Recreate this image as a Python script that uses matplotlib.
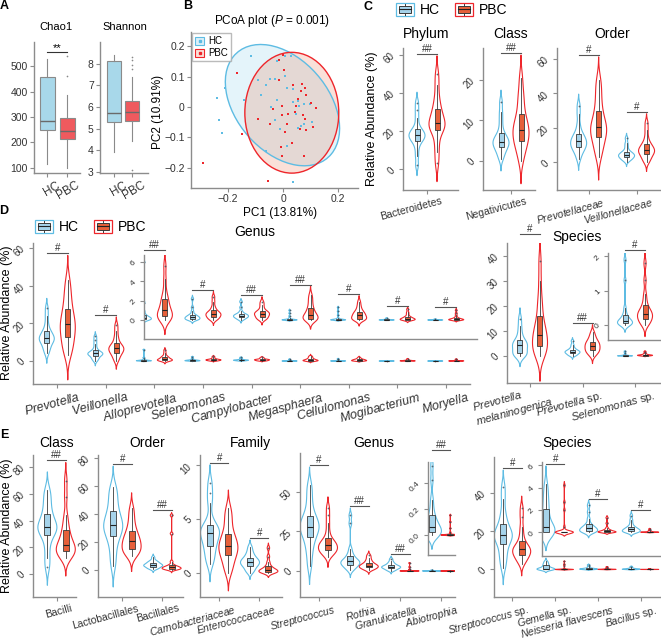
import numpy as np
import matplotlib
matplotlib.use("Agg")
import matplotlib.pyplot as plt
from matplotlib.patches import Ellipse, Rectangle, Patch
from matplotlib.lines import Line2D
from matplotlib.legend_handler import HandlerBase
from matplotlib.transforms import ScaledTranslation

plt.rcParams['font.family'] = ['Liberation Sans', 'DejaVu Sans']
plt.rcParams['mathtext.fontset'] = 'custom'
plt.rcParams['mathtext.rm'] = 'Liberation Sans'
plt.rcParams['mathtext.it'] = 'Liberation Sans:italic'

HC_LINE = '#5EBCE3'
HC_FILL = '#A6D3EA'
PBC_LINE = '#EE262B'
PBC_FILL = '#E6603A'
AXC = '#8c8c8c'
TXT = '#333333'

# ---------------- data ----------------
# A: alpha diversity (whislo, q1, med, q3, whishi) and outliers
groups = ['HC', 'PBC']
chao1_box = [[115, 248, 283, 458, 530], [100, 213, 247, 298, 385]]
chao1_out = [[], [460, 540]]
shannon_box = [[3.9, 5.32, 5.7, 8.1, 8.4], [4.45, 5.35, 5.75, 6.27, 7.4]]
shannon_out = [[], [3.1, 7.75, 7.95, 8.15, 8.3]]

# B: PCoA
pcoa_hc_x = [-0.117, -0.212, -0.24, -0.232, -0.221, -0.141, -0.091, -0.079, -0.062, -0.048,
             -0.031, -0.021, 0.006, 0.028, 0.007, -0.022, -0.042, -0.029, -0.010, 0.016,
             0.038, 0.036, 0.055, 0.059, 0.076, 0.099, 0.064, 0.076, 0.107, 0.016,
             -0.062, 0.036, 0.053, 0.047]
pcoa_hc_y = [0.168, 0.063, 0.031, -0.043, -0.087, 0.023, 0.088, 0.040, 0.071, 0.093,
             0.093, 0.150, 0.167, 0.167, 0.103, 0.024, 0.000, -0.042, -0.073, 0.063,
             0.060, 0.017, 0.021, 0.003, 0.010, 0.010, -0.062, -0.057, -0.049, -0.129,
             -0.146, -0.246, -0.070, -0.023]
pcoa_pbc_x = [-0.291, -0.169, -0.151, -0.016, -0.001, 0.004, 0.070, 0.079, 0.066, 0.056,
              0.102, 0.120, -0.091, -0.047, -0.037, -0.002, -0.004, 0.018, 0.016, 0.007,
              0.045, 0.072, 0.079, 0.061, 0.082, 0.110, -0.007, 0.033, -0.004, 0.078,
              -0.054, 0.036, -0.016, 0.047, 0.083]
pcoa_pbc_y = [-0.184, 0.113, -0.089, 0.154, 0.171, 0.121, 0.077, 0.062, 0.054, 0.027,
              0.013, -0.003, -0.040, -0.057, -0.007, 0.004, -0.027, -0.023, -0.057, -0.084,
              -0.018, -0.027, -0.040, -0.073, -0.075, -0.067, -0.132, -0.120, -0.160, -0.162,
              -0.245, 0.073, 0.088, 0.004, 0.038]
ell_hc = [-0.002, 0.006, 0.48, 0.32, -42]   # centre x, centre y, width, height, angle
ell_pbc = [0.032, -0.019, 0.342, 0.398, 0]

# C
phylum_labels = ['Bacteroidetes']
phylum_hc = [[2, 7, 11, 14, 15, 16, 17, 17.5, 18, 19, 20, 20.5, 23, 27, 31, 35]]
phylum_pbc = [[3, 9, 14, 19, 21, 22, 23, 24, 25, 27, 29, 31, 34, 38, 44, 50]]
phylum_sig = ['##']
class_labels = ['Negativicutes']
class_hc = [[0.5, 1.5, 2.5, 3, 3.5, 4, 4.5, 4.5, 5, 5.5, 6, 6.5, 8, 10, 12, 14.5]]
class_pbc = [[0, 2, 3.5, 4.5, 5, 6, 7, 7.5, 8, 9, 10, 11, 13, 15, 17, 20.5]]
class_sig = ['##']
order_labels = [r'$\it{Prevotellaceae}$', r'$\it{Veillonellaceae}$']
order_hc = [[2, 5, 7, 8, 9, 10, 11, 12, 12.5, 13.5, 15, 16, 18, 22, 28, 33],
            [0.5, 1.5, 2, 2.5, 3, 3.5, 4, 4, 4.5, 5, 5.5, 6, 7, 9, 11, 14]]
order_pbc = [[3, 7, 10, 13, 15, 17, 19, 20, 21, 23, 26, 29, 33, 38, 43, 48],
             [0, 1.5, 3, 4, 5, 6, 6.5, 7, 7.5, 8.5, 9.5, 10.5, 12, 15, 19, 23]]
order_sig = ['#', '#']

# D genus
genus_labels = [r'$\it{Prevotella}$', r'$\it{Veillonella}$', r'$\it{Alloprevotella}$',
                r'$\it{Selenomonas}$', r'$\it{Campylobacter}$', r'$\it{Megasphaera}$',
                r'$\it{Cellulomonas}$', r'$\it{Mogibacterium}$', r'$\it{Moryella}$']
genus_hc = [[4, 6, 7.5, 9, 10, 11, 11.5, 12, 12.5, 13.5, 14.5, 15.5, 17, 20, 24, 28],
            [0, 1, 1.5, 2.5, 3, 3.5, 3.5, 4, 4, 4.5, 5, 5.5, 7, 9, 11, 13],
            [0, 0, 0.05, 0.1, 0.1, 0.15, 0.2, 0.25, 0.3, 0.35, 0.45, 0.6, 0.9, 1.8, 6.0],
            [0, 0, 0.05, 0.1, 0.15, 0.2, 0.25, 0.3, 0.35, 0.4, 0.5, 0.6, 0.9, 1.3, 2.2],
            [0, 0.1, 0.2, 0.25, 0.3, 0.35, 0.4, 0.45, 0.5, 0.55, 0.6, 0.7, 0.9, 1.3, 1.9],
            [0, 0, 0, 0, 0, 0, 0.01, 0.02, 0.03, 0.05, 0.1, 0.2, 0.4, 0.7, 1.0],
            [0, 0, 0, 0, 0, 0.01, 0.02, 0.03, 0.05, 0.08, 0.1, 0.2, 0.5, 0.9, 1.3],
            [0, 0, 0, 0, 0, 0, 0.01, 0.02, 0.03, 0.04, 0.05, 0.07, 0.1, 0.15, 0.2],
            [0, 0, 0, 0, 0, 0, 0, 0.01, 0.01, 0.02, 0.03, 0.04, 0.05, 0.08, 0.1]]
genus_pbc = [[3, 6, 8, 11, 13, 15, 17, 19, 20, 22, 24, 27, 30, 34, 38, 43],
             [0, 1.5, 3, 4, 4.5, 5.5, 6, 6.5, 7, 7.5, 8.5, 9, 11, 13, 16, 19],
             [0, 0.1, 0.2, 0.3, 0.5, 0.6, 0.8, 1.0, 1.3, 1.7, 2.0, 2.3, 3.0, 4.2, 5.6],
             [0, 0.1, 0.2, 0.3, 0.4, 0.5, 0.6, 0.6, 0.7, 0.8, 0.9, 1.1, 1.4, 1.9, 2.4],
             [0, 0.1, 0.2, 0.3, 0.4, 0.5, 0.6, 0.65, 0.7, 0.8, 0.9, 1.0, 1.3, 1.6, 1.9],
             [0, 0.02, 0.05, 0.1, 0.2, 0.3, 0.4, 0.5, 0.7, 0.9, 1.1, 1.4, 1.8, 2.2, 2.6],
             [0, 0.02, 0.05, 0.1, 0.2, 0.3, 0.4, 0.5, 0.6, 0.7, 0.8, 0.95, 1.2, 1.5, 1.9],
             [0, 0, 0, 0.02, 0.05, 0.08, 0.1, 0.15, 0.2, 0.25, 0.3, 0.4, 0.6, 0.8, 1.1],
             [0, 0, 0, 0.01, 0.02, 0.03, 0.05, 0.08, 0.1, 0.15, 0.2, 0.3, 0.5, 0.7, 1.0]]
genus_sig = ['#', '#', '##', '#', '##', '##', '#', '#', '#']

# D species
spec_d_labels = [r'$\it{Prevotella}$' + '\n' + r'$\it{melaninogenica}$',
                 r'$\it{Prevotella}$ sp.', r'$\it{Selenomonas}$ sp.']
spec_d_hc = [[0, 0.2, 0.5, 1, 1.5, 2.5, 3.5, 4, 4.5, 5, 5.5, 6, 7.5, 9.5, 12, 15],
             [0, 0.3, 0.6, 0.9, 1.2, 1.4, 1.5, 1.7, 1.9, 2.1, 2.4, 2.8, 3.5, 4.5, 6],
             [0, 0, 0.02, 0.04, 0.06, 0.08, 0.1, 0.12, 0.15, 0.2, 0.25, 0.35, 0.5, 1.3, 1.9]]
spec_d_pbc = [[0, 1, 2, 2.5, 4, 5, 6.5, 7.5, 8.5, 10, 11.5, 13, 16, 20, 23, 30, 38],
              [0, 1, 1.5, 2, 2.5, 3, 3.5, 4, 4.5, 5, 5.5, 6, 7, 8, 9.5],
              [0, 0.05, 0.1, 0.15, 0.2, 0.25, 0.3, 0.3, 0.35, 0.4, 0.45, 0.55, 0.7, 0.9, 1.3, 1.8]]
spec_d_sig = ['#', '##', '#']

# E
class_e_labels = ['Bacilli']
class_e_hc = [[5, 12, 20, 27, 30, 32, 34, 35, 36, 38, 41, 44, 48, 53, 58, 63]]
class_e_pbc = [[12, 14, 15, 16, 17, 18, 20, 21, 22, 24, 27, 30, 33, 38, 44, 58, 70]]
class_e_sig = ['##']
order_e_labels = ['Lactobacillales', 'Bacillales']
order_e_hc = [[3, 10, 17, 22, 25, 28, 30, 31, 33, 35, 38, 41, 45, 50, 55, 59],
              [0.5, 1, 1.5, 2, 2.5, 3, 3, 3.5, 3.5, 4, 4.5, 5, 5.5, 6, 7, 9]]
order_e_pbc = [[10, 12, 13, 14, 15, 17, 19, 20, 21, 23, 25, 27, 30, 34, 39, 44],
               [0, 0.3, 0.5, 0.8, 1, 1.2, 1.5, 1.7, 2, 2.3, 2.7, 3, 4, 6, 26, 39]]
order_e_sig = ['#', '##']
family_e_labels = [r'$\it{Carnobacteriaceae}$', r'$\it{Enterococcaceae}$']
family_e_hc = [[0.8, 1.3, 1.8, 2.3, 2.6, 3, 3.3, 3.6, 3.8, 4, 4.1, 4.3, 5, 6.5, 7.4, 8.4],
               [0, 0.2, 0.4, 0.6, 0.7, 0.8, 0.9, 1, 1.1, 1.2, 1.3, 1.5, 1.7, 2, 2.4]]
family_e_pbc = [[0, 0.5, 1, 1.4, 1.7, 2, 2.2, 2.4, 2.6, 2.9, 3.2, 3.5, 4, 4.7, 5.3, 6],
                [0, 0, 0, 0.05, 0.1, 0.15, 0.2, 0.25, 0.3, 0.4, 0.5, 0.7, 1, 1.5, 2.3]]
family_e_sig = ['#', '#']
genus_e_labels = [r'$\it{Streptococcus}$', r'$\it{Rothia}$', r'$\it{Granulicatella}$',
                  r'$\it{Abiotrophia}$']
genus_e_hc = [[3, 10, 15, 19, 22, 24, 26, 27.5, 28.5, 30, 32, 34, 37, 42, 48, 54],
              [0.5, 1.5, 2.5, 3.5, 4, 4.5, 5, 5.5, 6, 6.5, 7, 8, 9.5, 11, 14, 30, 35],
              [0, 0.5, 1, 1.5, 1.8, 2, 2.3, 2.5, 2.8, 3, 3.3, 3.8, 4.3, 5, 6, 7.5],
              [0, 0, 0, 0.01, 0.02, 0.03, 0.04, 0.05, 0.06, 0.08, 0.1, 0.12, 0.15, 0.2, 0.27, 0.42, 0.53]]
genus_e_pbc = [[9, 11, 12, 12.5, 13, 14, 15, 16, 16.5, 17, 18, 19.5, 21, 25, 30, 35, 40],
               [0.5, 1, 1.5, 2, 2.3, 2.6, 3, 3.2, 3.5, 4, 4.5, 5, 6, 7, 8.5, 10],
               [0, 0, 0, 0, 0, 0, 0.02, 0.05, 0.08, 0.1, 0.15, 0.2, 0.4, 1, 2.5, 5],
               [0, 0, 0, 0, 0, 0, 0, 0, 0, 0, 0, 0, 0.01, 0.02, 0.05, 0.1, 0.15]]
genus_e_sig = ['#', '##', '##', '##']
spec_e_labels = [r'$\it{Streptococcus}$ sp.', r'$\it{Gemella}$ sp.',
                 r'$\it{Neisseria\ flavescens}$', r'$\it{Bacillus}$ sp.']
spec_e_hc = [[1, 5, 8, 11, 14, 15.5, 16.5, 17.5, 18.5, 19.5, 21, 23, 26, 30, 37, 43],
             [0, 0, 0, 0, 0.05, 0.1, 0.2, 0.3, 0.6, 1.0, 1.5, 2.0, 2.4, 3.0, 3.6, 4.3],
             [0, 0, 0.05, 0.1, 0.15, 0.2, 0.3, 0.35, 0.4, 0.5, 0.6, 0.8, 1.2, 1.8, 2.4],
             [0, 0, 0.02, 0.05, 0.1, 0.15, 0.2, 0.25, 0.3, 0.35, 0.45, 0.55, 0.8, 1.1, 1.5]]
spec_e_pbc = [[3, 4.5, 6, 7, 7.5, 8.5, 9.5, 10, 10.5, 11, 12, 13, 15, 18, 22, 27.5, 32],
              [0, 0, 0, 0, 0, 0, 0, 0, 0, 0, 0, 0, 0, 0.5, 2, 2.7, 4.2],
              [0, 0, 0, 0, 0, 0.02, 0.05, 0.08, 0.1, 0.15, 0.2, 0.25, 0.4, 0.8, 1.3],
              [0, 0, 0, 0, 0, 0, 0, 0.01, 0.02, 0.03, 0.05, 0.08, 0.1, 0.2, 0.3]]
spec_e_sig = ['#', '#', '#', '#']

# ---------------- helpers ----------------
W, H = 661, 644
fig = plt.figure(figsize=(W / 100, H / 100), dpi=100)


def add_ax(l, t, r, b):
    return fig.add_axes([l / W, 1 - b / H, (r - l) / W, (b - t) / H])


def ftext(x, y, s, **kw):
    kw.setdefault('ha', 'center')
    kw.setdefault('va', 'center')
    kw.setdefault('color', 'black')
    fig.text(x / W, 1 - y / H, s, **kw)


def style(ax, rot=45, fs=7):
    for s in ['top', 'right']:
        ax.spines[s].set_visible(False)
    for s in ['left', 'bottom']:
        ax.spines[s].set_color(AXC)
        ax.spines[s].set_linewidth(1)
    ax.tick_params(colors=AXC, labelcolor=TXT, labelsize=fs, length=3, width=0.8, pad=1.5)
    ax.tick_params(axis='y', labelrotation=rot)


def kde(vals):
    v = np.asarray(vals, float)
    sd = v.std(ddof=1)
    q1, q3 = np.percentile(v, [25, 75])
    lo = min(sd, (q3 - q1) / 1.34)
    if lo <= 0:
        lo = 0.25 * sd if sd > 0 else 0.05
    bw = 0.85 * 0.9 * lo * len(v) ** -0.2
    y = np.linspace(v.min() - 2.6 * bw, v.max() + 2.6 * bw, 300)
    d = np.exp(-0.5 * ((y[:, None] - v[None, :]) / bw) ** 2).sum(1)
    return dict(coords=y, vals=d, mean=v.mean(), median=np.median(v),
                min=v.min(), max=v.max(), quantiles=[])


def pair(ax, x, hc, pbc, dx, vw, bw, sig, pad):
    tops = []
    for data, off, line, fill in [(hc, -dx, HC_LINE, HC_FILL), (pbc, dx, PBC_LINE, PBC_FILL)]:
        st = kde(data)
        tops.append(st['coords'].max())
        parts = ax.violin([st], positions=[x + off], widths=vw, showextrema=False)
        for b in parts['bodies']:
            b.set_alpha(1)
            b.set_facecolor('none')
            b.set_edgecolor(line)
            b.set_linewidth(0.8)
        ax.boxplot([data], positions=[x + off], widths=bw, patch_artist=True,
                   manage_ticks=False, showcaps=False,
                   boxprops=dict(facecolor=fill, edgecolor='#3a3a3a', linewidth=0.6),
                   medianprops=dict(color='#222222', linewidth=0.8),
                   whiskerprops=dict(color='#3a3a3a', linewidth=0.6),
                   flierprops=dict(marker='o', markersize=1.3, markerfacecolor='#3a4a55',
                                   markeredgecolor='none', alpha=0.8))
    if sig:
        y = max(tops) + pad
        ax.plot([x - dx, x + dx], [y, y], color='#555555', lw=0.8, clip_on=False)
        ax.text(x, y, sig, ha='center', va='bottom', fontsize=7, color=TXT)


def vaxes(box, xlim, ylim, yticks, hc, pbc, sigs, show=None, dodge_px=10, vw_px=16, bw_px=5):
    ax = add_ax(*box)
    ax.set_xlim(xlim)
    ax.set_ylim(ylim)
    u = (xlim[1] - xlim[0]) / (box[2] - box[0])
    pad = 0.015 * (ylim[1] - ylim[0])
    for i, (h, p) in enumerate(zip(hc, pbc)):
        if show is not None and i not in show:
            continue
        pair(ax, i + 1, h, p, dodge_px * u, vw_px * u, bw_px * u, sigs[i], pad)
    ax.set_yticks(yticks)
    style(ax)
    return ax


def inset_xlim(mbox, mxlim, ibox):
    k = (mxlim[1] - mxlim[0]) / (mbox[2] - mbox[0])
    return (mxlim[0] + (ibox[0] - mbox[0]) * k, mxlim[0] + (ibox[2] - mbox[0]) * k)


def xlabels(ax, labels, fs, dx_px, rot=15, ha='right', ma='right'):
    ax.set_xticks(np.arange(1, len(labels) + 1))
    ax.set_xticklabels(labels, rotation=rot, ha=ha, rotation_mode='anchor', fontsize=fs,
                       multialignment=ma)
    off = ScaledTranslation(dx_px / 100, 0, fig.dpi_scale_trans)
    for lab in ax.get_xticklabels():
        lab.set_transform(lab.get_transform() + off)


class BoxKey(HandlerBase):
    def __init__(self, line, fill):
        super().__init__()
        self.line, self.fill = line, fill

    def create_artists(self, legend, orig, xd, yd, w, h, fs, trans):
        x0, y0 = -xd, -yd
        outer = Rectangle((x0, y0), w, h, fc='none', ec=self.line, lw=0.9, transform=trans)
        inner = Rectangle((x0 + 0.15 * w, y0 + 0.25 * h), 0.7 * w, 0.5 * h, fc=self.fill,
                          ec='#3a3a3a', lw=0.7, transform=trans)
        med = Line2D([x0 + 0.15 * w, x0 + 0.85 * w], [y0 + 0.5 * h] * 2, color='#222222',
                     lw=0.8, transform=trans)
        wt = Line2D([x0 + 0.5 * w] * 2, [y0 + 0.75 * h, y0 + 0.9 * h], color='#3a3a3a',
                    lw=0.7, transform=trans)
        wb = Line2D([x0 + 0.5 * w] * 2, [y0 + 0.1 * h, y0 + 0.25 * h], color='#3a3a3a',
                    lw=0.7, transform=trans)
        return [outer, inner, med, wt, wb]


def box_legend(x, y):
    h1, h2 = Patch(), Patch()
    fig.legend([h1, h2], groups, handler_map={h1: BoxKey(HC_LINE, HC_FILL),
                                              h2: BoxKey(PBC_LINE, PBC_FILL)},
               loc='center left', bbox_to_anchor=(x / W, 1 - y / H), ncol=2, frameon=False,
               fontsize=10, handlelength=1.3, handleheight=1.1, columnspacing=1.1,
               handletextpad=0.4, borderpad=0, borderaxespad=0)


# ---------------- A ----------------
for box, xlim, stats_, outs, yt, title, tx in [
        ((34, 42, 80, 173), (0.35, 2.65), chao1_box, chao1_out, [100, 200, 300, 400, 500], 'Chao1', 56),
        ((100, 42, 148, 173), (0.25, 2.87), shannon_box, shannon_out, [3, 4, 5, 6, 7, 8], 'Shannon', 125)]:
    ax = add_ax(*box)
    st = [dict(whislo=b[0], q1=b[1], med=b[2], q3=b[3], whishi=b[4], fliers=o)
          for b, o in zip(stats_, outs)]
    bp = ax.bxp(st, positions=[1, 2], widths=0.75, patch_artist=True, showcaps=False,
                boxprops=dict(edgecolor='#8a8a8a', linewidth=0.8),
                medianprops=dict(color='#6a6a6a', linewidth=1.0),
                whiskerprops=dict(color='#8a8a8a', linewidth=0.8),
                flierprops=dict(marker='o', markersize=1.2, markerfacecolor='#888888',
                                markeredgecolor='none'))
    for patch, c in zip(bp['boxes'], ['#A8D8EA', '#EF5A5E']):
        patch.set_facecolor(c)
    ax.set_xlim(xlim)
    ax.set_yticks(yt)
    style(ax, rot=0, fs=7.5)
    ax.set_xticks([1, 2])
    ax.set_xticklabels(groups, rotation=30, ha='right', rotation_mode='anchor', fontsize=8.5)
    off = ScaledTranslation(9 / 100, 0, fig.dpi_scale_trans)
    for lab in ax.get_xticklabels():
        lab.set_transform(lab.get_transform() + off)
    ftext(tx, 27, title, fontsize=8)
    if title == 'Chao1':
        ax.set_ylim(80, 595)
        ax.plot([1, 2], [556, 556], color='#333333', lw=0.8)
        ax.text(1.5, 552, '**', ha='center', va='bottom', fontsize=8)
    else:
        ax.set_ylim(2.95, 9.0)

# ---------------- B ----------------
ax = add_ax(191, 32, 358, 188)
for e, c, a in [(ell_hc, '#87CEEB', 0.22), (ell_pbc, '#E8683C', 0.2)]:
    ax.add_patch(Ellipse((e[0], e[1]), e[2], e[3], angle=e[4], facecolor=c, alpha=a,
                         edgecolor='none'))
for e, c in [(ell_hc, HC_LINE), (ell_pbc, PBC_LINE)]:
    ax.add_patch(Ellipse((e[0], e[1]), e[2], e[3], angle=e[4], facecolor='none',
                         edgecolor=c, lw=1.0))
ax.scatter(pcoa_hc_x, pcoa_hc_y, s=4, marker='s', color=HC_LINE, lw=0)
ax.scatter(pcoa_pbc_x, pcoa_pbc_y, s=4, marker='s', color=PBC_LINE, lw=0)
ax.set_xlim(-0.335, 0.273)
ax.set_ylim(-0.267, 0.247)
ax.set_xticks([-0.2, 0, 0.2])
ax.set_xticklabels(['\u22120.2', '0', '0.2'])
ax.set_yticks([-0.2, -0.1, 0, 0.1, 0.2])
ax.set_yticklabels(['\u22120.2', '\u22120.1', '0', '0.1', '0.2'])
style(ax, rot=0, fs=7.5)
leg_h = [(Patch(facecolor='#DCEFF8', edgecolor=HC_LINE, lw=0.8),
          Line2D([], [], marker='s', ms=2, color=HC_LINE, lw=0)),
         (Patch(facecolor='#F9E0D8', edgecolor=PBC_LINE, lw=0.8),
          Line2D([], [], marker='s', ms=2, color=PBC_LINE, lw=0))]
ax.legend(leg_h, groups, loc='upper left', fontsize=7, frameon=True, fancybox=False,
          edgecolor='#aaaaaa', handlelength=0.9, handleheight=0.9, borderpad=0.3,
          labelspacing=0.2, handletextpad=0.4, borderaxespad=0.15)
ftext(272, 21, r'PCoA plot ($\it{P}$ = 0.001)', fontsize=8.5)
ftext(280, 213, 'PC1 (13.81%)', fontsize=8.5)
ftext(158, 112, 'PC2 (10.91%)', fontsize=8.5, rotation=90)

# ---------------- C ----------------
box_legend(396, 10)
ax = vaxes((403, 48, 458, 190), (0.52, 1.62), (-11, 63.7), [0, 20, 40, 60],
           phylum_hc, phylum_pbc, phylum_sig)
xlabels(ax, phylum_labels, 7.5, 14)
ax = vaxes((483, 48, 535, 190), (0.44, 1.48), (-7.2, 27.9), [0, 10, 20],
           class_hc, class_pbc, class_sig)
xlabels(ax, class_labels, 7.5, 14)
ax = vaxes((557, 48, 661, 190), (0.34, 2.51), (-16, 66.4), [0, 20, 40, 60],
           order_hc, order_pbc, order_sig)
xlabels(ax, order_labels, 7.5, 14)
ftext(426, 34, 'Phylum', fontsize=10)
ftext(511, 34, 'Class', fontsize=10)
ftext(612, 34, 'Order', fontsize=10)
ftext(372, 119, 'Relative Abundance (%)', fontsize=9, rotation=90)

# ---------------- D ----------------
box_legend(35, 227)
mbox, mxl = (33, 243, 470, 384), (0.5, 9.5)
ax = vaxes(mbox, mxl, (-12.2, 62.6), [0, 20, 40, 60], genus_hc, genus_pbc,
           genus_sig[:2] + [None] * 7, dodge_px=10.5, vw_px=15)
xlabels(ax, genus_labels, 9, 21)
ibox = (144, 255, 477, 339)
ax = vaxes(ibox, inset_xlim(mbox, mxl, ibox), (-1.97, 6.74), [0, 2, 4, 6], genus_hc,
           genus_pbc, genus_sig, show=range(2, 9), dodge_px=10.5, vw_px=15)
ax.set_xticks([])
ax.tick_params(axis='y', labelsize=6)

mbox, mxl = (507, 243, 661, 383), (0.562, 3.495)
ax = vaxes(mbox, mxl, (-10.8, 45.2), [0, 10, 20, 30, 40], spec_d_hc, spec_d_pbc,
           spec_d_sig[:2] + [None], dodge_px=10, vw_px=15)
xlabels(ax, spec_d_labels, 8, 18, ma='left')
first = ax.get_xticklabels()[0]
first.set_transform(first.get_transform() + ScaledTranslation(0, 0.08, fig.dpi_scale_trans))
ibox = (608, 253, 661, 340)
ax = vaxes(ibox, inset_xlim(mbox, mxl, ibox), (-0.44, 2.1), [0, 1, 2], spec_d_hc,
           spec_d_pbc, spec_d_sig, show=[2], dodge_px=10, vw_px=15)
ax.set_xticks([])
ax.tick_params(axis='y', labelsize=6)
ftext(255, 232, 'Genus', fontsize=10)
ftext(577, 237, 'Species', fontsize=10)
ftext(7, 313, 'Relative Abundance (%)', fontsize=9, rotation=90)

# ---------------- E ----------------
ax = vaxes((33, 455, 76, 597), (0.49, 1.42), (-17.2, 89.1), [0, 20, 40, 60, 80],
           class_e_hc, class_e_pbc, class_e_sig, dodge_px=9.2, vw_px=19, bw_px=6)
xlabels(ax, class_e_labels, 7.5, 14)
ax = vaxes((98, 455, 183, 597), (0.39, 2.515), (-19.3, 82.1), [0, 20, 40, 60, 80],
           order_e_hc, order_e_pbc, order_e_sig, dodge_px=9.2, vw_px=19, bw_px=6)
xlabels(ax, order_e_labels, 7.5, 15)
ax = vaxes((200, 455, 282, 597), (0.52, 2.57), (-2.28, 10.98), [0, 5, 10],
           family_e_hc, family_e_pbc, family_e_sig, dodge_px=9.2, vw_px=19, bw_px=6)
xlabels(ax, family_e_labels, 7.5, 15)
mbox, mxl = (300, 453, 455, 597), (0.54, 4.34)
ax = vaxes(mbox, mxl, (-16.4, 74.4), [0, 25, 50], genus_e_hc, genus_e_pbc,
           genus_e_sig[:3] + [None], dodge_px=9.2, vw_px=19, bw_px=6)
xlabels(ax, genus_e_labels, 7.5, 15)
ibox = (428, 462, 455, 555)
ax = vaxes(ibox, inset_xlim(mbox, mxl, ibox), (-0.153, 0.557), [0, 0.2, 0.4], genus_e_hc,
           genus_e_pbc, genus_e_sig, show=[3], dodge_px=9.2, vw_px=19, bw_px=6)
ax.set_xticks([])
ax.tick_params(axis='y', labelsize=6)
mbox, mxl = (494, 457, 661, 597), (0.567, 4.48)
ax = vaxes(mbox, mxl, (-14.4, 58.8), [0, 20, 40], spec_e_hc, spec_e_pbc,
           spec_e_sig[:1] + [None] * 3, dodge_px=9.2, vw_px=18, bw_px=6)
xlabels(ax, spec_e_labels, 7.5, 15)
ibox = (542, 462, 661, 556)
ax = vaxes(ibox, inset_xlim(mbox, mxl, ibox), (-2.13, 6.3), [0, 2, 4, 6], spec_e_hc,
           spec_e_pbc, spec_e_sig, show=[1, 2, 3], dodge_px=9.2, vw_px=18, bw_px=6)
ax.set_xticks([])
ax.tick_params(axis='y', labelsize=6)
for x, t in [(57, 'Class'), (147, 'Order'), (250, 'Family'), (374, 'Genus'), (567, 'Species')]:
    ftext(x, 443, t, fontsize=10)
ftext(7, 526, 'Relative Abundance (%)', fontsize=9, rotation=90)

# panel letters
for x, y, s in [(4, 6, 'A'), (188, 6, 'B'), (368, 7, 'C'), (4, 211, 'D'), (4, 435, 'E')]:
    ftext(x, y, s, fontsize=9, fontweight='bold')

fig.savefig('out.png', dpi=100)
